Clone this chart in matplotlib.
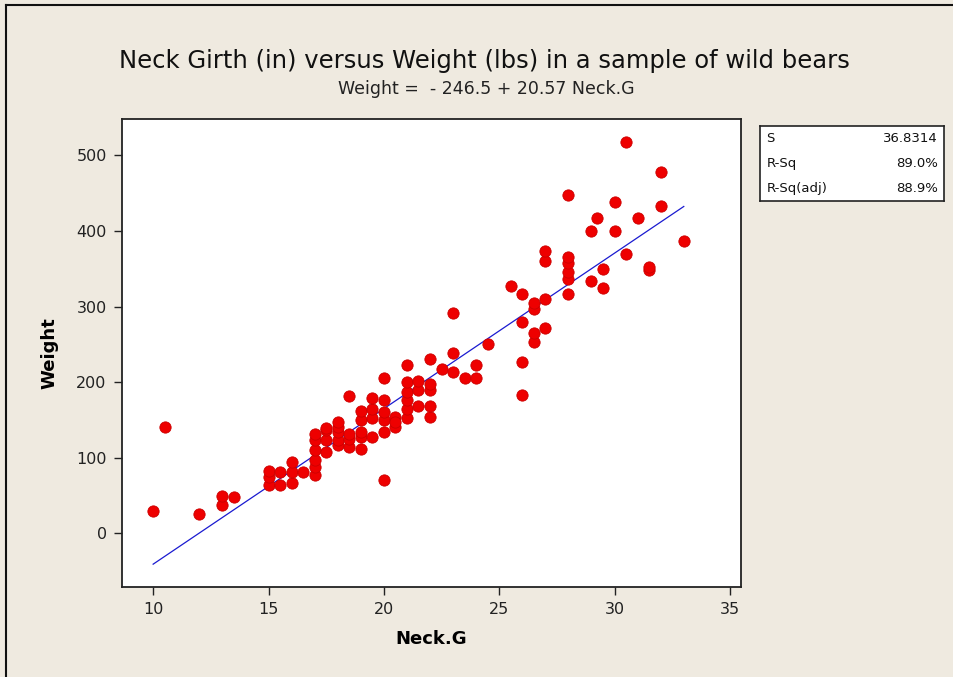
import matplotlib
matplotlib.use("Agg")
import matplotlib.pyplot as plt
from matplotlib.lines import Line2D

# neck girth (in) and weight (lbs)
neck_girth = [
    10, 10.5, 12, 13, 13, 13.5,
    15, 15, 15, 15.5, 15.5, 16, 16, 16, 16.5,
    17, 17, 17, 17, 17, 17, 17.5, 17.5, 17.5, 17.5,
    18, 18, 18, 18, 18, 18.5, 18.5, 18.5, 18.5,
    19, 19, 19, 19, 19, 19.5, 19.5, 19.5, 19.5,
    20, 20, 20, 20, 20, 20, 20.5, 20.5, 20.5,
    21, 21, 21, 21, 21, 21, 21.5, 21.5, 21.5,
    22, 22, 22, 22, 22, 22.5, 23, 23, 23, 23.5, 24, 24, 24.5,
    25.5, 26, 26, 26, 26, 26.5, 26.5, 26.5, 26.5,
    27, 27, 27, 27, 28, 28, 28, 28, 28, 28,
    29, 29, 29.25, 29.5, 29.5, 30, 30, 30.5, 30.5, 31, 31.5, 31.5,
    32, 32, 33,
]
weight = [
    29, 140, 26, 37, 50, 48,
    64, 74, 83, 64, 81, 66, 81, 94, 81,
    77, 88, 97, 110, 124, 132, 108, 123, 136, 139,
    117, 123, 134, 140, 147, 114, 125, 132, 182,
    112, 127, 134, 150, 162, 127, 152, 165, 179,
    71, 134, 150, 161, 176, 206, 141, 154, 147,
    152, 165, 176, 187, 200, 222, 169, 189, 202,
    154, 169, 190, 198, 231, 217, 213, 238, 291, 206, 205, 223, 250,
    327, 183, 227, 280, 317, 253, 265, 297, 304,
    271, 310, 360, 374, 317, 336, 346, 357, 366, 447,
    334, 400, 417, 324, 350, 400, 438, 370, 517, 417, 348, 352,
    433, 478, 387,
]

# fitted line shown in the subtitle
intercept = -246.5
slope = 20.57
fit_x = [min(neck_girth), max(neck_girth)]

stat_names = ["S", "R-Sq", "R-Sq(adj)"]
stat_values = ["36.8314", "89.0%", "88.9%"]

x_ticks = [10, 15, 20, 25, 30, 35]
y_ticks = [0, 100, 200, 300, 400, 500]

W, H = 954, 677
bg = "#efeae0"

plt.rcParams["font.family"] = ["DejaVu Sans"]
fig = plt.figure(figsize=(W / 100, H / 100), dpi=100, facecolor=bg)

# plot region in pixel terms -> figure fractions
left, right, top, bottom = 122, 741, 119, 587
ax = fig.add_axes([left / W, 1 - bottom / H, (right - left) / W, (bottom - top) / H])
ax.set_facecolor("white")

ax.scatter(neck_girth, weight, s=66, color="#ee0000", edgecolors="#cc0000",
           linewidths=0.6, zorder=3)
ax.plot(fit_x, [intercept + slope * v for v in fit_x], color="#1a1ad0",
        linewidth=0.9, zorder=2)

ax.set_xlim(8.65, 35.48)
ax.set_ylim(-71, 548)
ax.set_xticks(x_ticks)
ax.set_yticks(y_ticks)
ax.tick_params(direction="out", length=6, width=1, labelsize=11.5,
               colors="#222222", pad=5)
for sp in ax.spines.values():
    sp.set_linewidth(1.3)
    sp.set_color("#222222")

ax.set_xlabel("Neck.G", fontsize=13, fontweight="bold", labelpad=9)
ax.set_ylabel("Weight", fontsize=13, fontweight="bold", labelpad=13)

fig.text(484 / W, 1 - 61 / H, "Neck Girth (in) versus Weight (lbs) in a sample of wild bears",
         ha="center", va="center", fontsize=17.5, color="#111111")
fig.text(486 / W, 1 - 89 / H, "Weight =  - 246.5 + 20.57 Neck.G",
         ha="center", va="center", fontsize=12.5, color="#222222")

# summary statistics box
bx0, bx1, by0, by1 = 760, 944, 126, 201
box = fig.add_axes([bx0 / W, 1 - by1 / H, (bx1 - bx0) / W, (by1 - by0) / H])
box.set_facecolor("white")
box.set_xticks([])
box.set_yticks([])
for sp in box.spines.values():
    sp.set_linewidth(1.2)
    sp.set_color("#222222")
for i, (name, val) in enumerate(zip(stat_names, stat_values)):
    yy = 1 - (i + 0.5) / len(stat_names)
    box.text(0.035, yy, name, ha="left", va="center", fontsize=9.5, color="#111111",
             transform=box.transAxes)
    box.text(0.965, yy, val, ha="right", va="center", fontsize=9.5, color="#111111",
             transform=box.transAxes)

# window border from the screenshot (left and top edges)
fig.add_artist(Line2D([6.5 / W, 6.5 / W], [0, 1 - 4.5 / H], color="#111111", linewidth=1.5))
fig.add_artist(Line2D([6.5 / W, 1], [1 - 4.5 / H, 1 - 4.5 / H], color="#111111", linewidth=1.5))

fig.savefig("out.png", dpi=100, facecolor=bg)
